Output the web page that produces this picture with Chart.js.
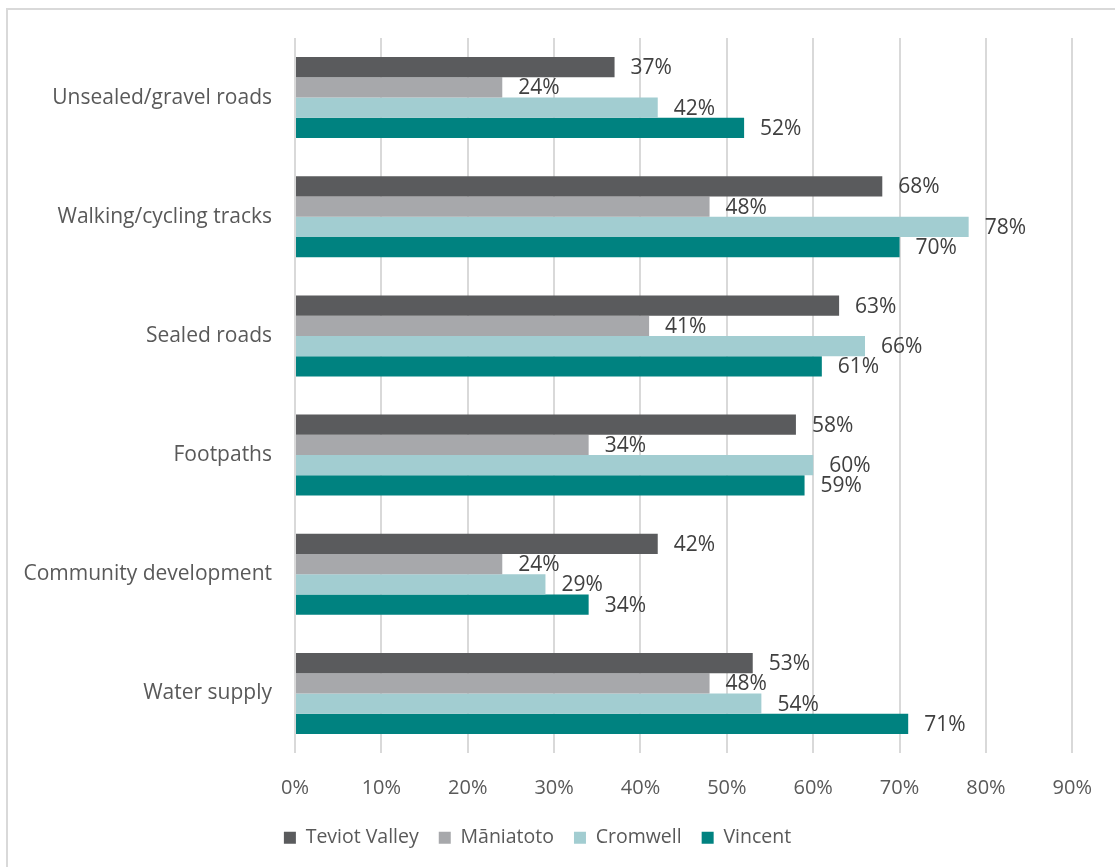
<!DOCTYPE html>
<html lang="en">
<head>
<meta charset="UTF-8">
<title>Infrastructure satisfaction by ward</title>
<script src="https://cdn.jsdelivr.net/npm/chart.js"></script>
<style>
    html, body { margin: 0; padding: 0; background: #fff; }
    #wrap { width: 1115px; height: 867px; position: relative; }
</style>
</head>
<body>
<div id="wrap"><canvas id="chart"></canvas></div>
<script>
// categories, top to bottom
const categories = ['Unsealed/gravel roads', 'Walking/cycling tracks', 'Sealed roads',
    'Footpaths', 'Community development', 'Water supply'];

// percentages per ward
const teviotValley = [37, 68, 63, 58, 42, 53];
const maniatoto    = [24, 48, 41, 34, 24, 48];
const cromwell     = [42, 78, 66, 60, 29, 54];
const vincent      = [52, 70, 61, 59, 34, 71];

const seriesNames = ['Teviot Valley', 'Māniatoto', 'Cromwell', 'Vincent'];
const seriesColors = ['#5a5b5d', '#a7a8ab', '#a2cdd1', '#008280'];
const seriesValues = [teviotValley, maniatoto, cromwell, vincent];

const FONT = '"Open Sans", sans-serif';

// light frame round the whole chart
const frame = {
    id: 'frame',
    beforeDraw(chart) {
        const c = chart.ctx;
        c.save();
        c.fillStyle = '#fff';
        c.fillRect(0, 0, chart.width, chart.height);
        c.strokeStyle = '#d9d9d9';
        c.lineWidth = 2;
        c.strokeRect(7, 9, chart.width + 10, chart.height + 10);
        c.restore();
    }
};

// value labels just past the end of each bar
const valueLabels = {
    id: 'valueLabels',
    afterDatasetsDraw(chart) {
        const c = chart.ctx;
        c.save();
        c.font = '21px ' + FONT;
        c.fillStyle = '#404040';
        c.textAlign = 'left';
        c.textBaseline = 'middle';
        chart.data.datasets.forEach((ds, i) => {
            chart.getDatasetMeta(i).data.forEach((bar, j) => {
                c.fillText(ds.data[j] + '%', bar.x + 16, bar.y + 1);
            });
        });
        c.restore();
    }
};

new Chart(document.getElementById('chart'), {
    type: 'bar',
    data: {
        labels: categories,
        datasets: seriesNames.map((name, i) => ({
            label: name,
            data: seriesValues[i],
            backgroundColor: seriesColors[i],
            borderWidth: 0,
            categoryPercentage: 0.68,
            barPercentage: 1.0
        }))
    },
    options: {
        indexAxis: 'y',
        responsive: true,
        maintainAspectRatio: false,
        animation: false,
        layout: { padding: { top: 38, right: 40, left: 0, bottom: 9.5 } },
        scales: {
            x: {
                min: 0,
                max: 90,
                ticks: {
                    stepSize: 10,
                    callback: v => v + '%',
                    color: '#595959',
                    font: { family: FONT, size: 20 },
                    padding: 23
                },
                grid: { color: '#d9d9d9', lineWidth: 2, drawTicks: false },
                border: { display: false },
                afterFit(scale) { scale.height = 55; }
            },
            y: {
                ticks: {
                    color: '#595959',
                    font: { family: FONT, size: 21 },
                    padding: 15
                },
                grid: { display: false },
                border: { display: false },
                afterFit(scale) { scale.width = 295; }
            }
        },
        plugins: {
            legend: {
                position: 'bottom',
                labels: {
                    boxWidth: 12,
                    boxHeight: 12,
                    padding: 20,
                    color: '#595959',
                    font: { family: FONT, size: 19.5 }
                }
            },
            tooltip: { enabled: false }
        }
    },
    plugins: [frame, valueLabels]
});
</script>
</body>
</html>
